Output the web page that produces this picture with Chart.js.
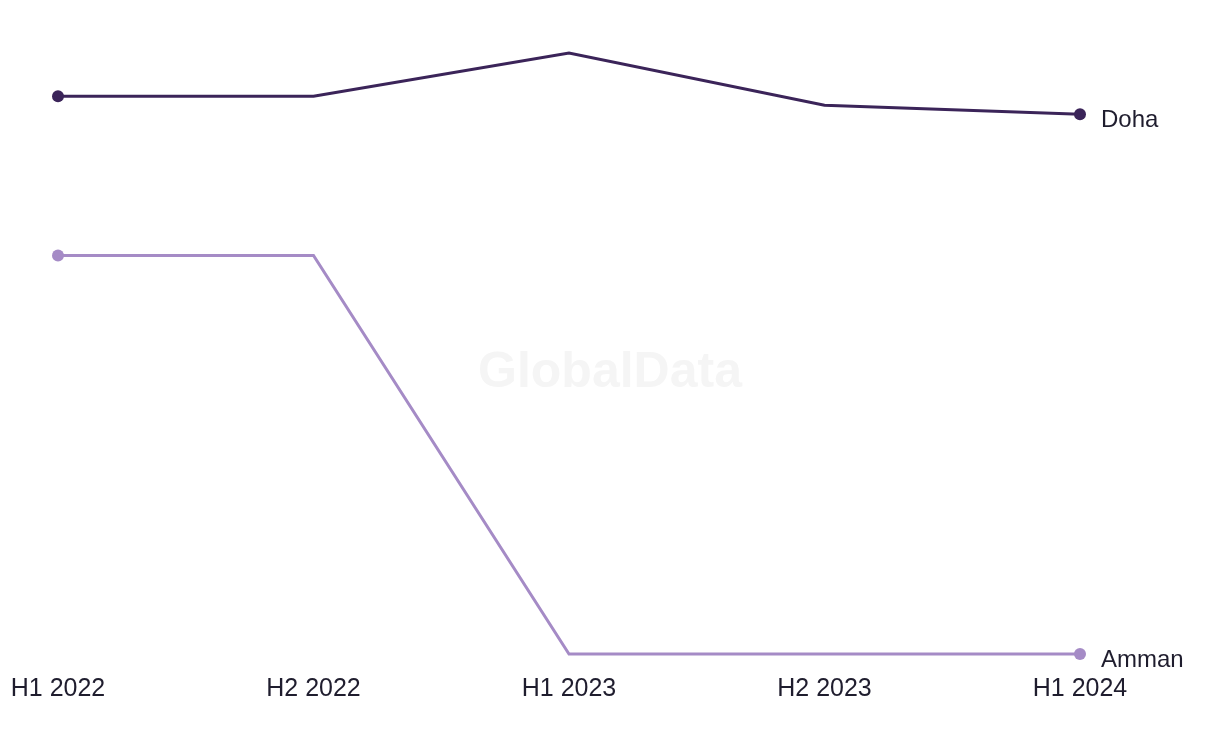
<!DOCTYPE html>
<html>
<head>
<meta charset="utf-8">
<script src="https://cdn.jsdelivr.net/npm/chart.js@4"></script>
<style>
  body { margin: 0; background: #fff; }
  #wrap { width: 1220px; height: 744px; position: relative; }
</style>
</head>
<body>
<div id="wrap"><canvas id="cityChart"></canvas></div>
<script>
// data (hidden y scale, 0-100)
const periods = ['H1 2022', 'H2 2022', 'H1 2023', 'H2 2023', 'H1 2024'];
const dohaValues = [92.8, 92.8, 100, 91.3, 89.8];
const ammanValues = [66.3, 66.3, 0, 0, 0];
const seriesNames = ['Doha', 'Amman'];
const seriesColors = ['#3b2459', '#a58bc6'];

const TEXT_COLOR = '#1f1d2e';
const FONT = '"Liberation Sans", Arial, sans-serif';

// only the first and last points get a dot
const endDots = (ctx) =>
  ctx.dataIndex === 0 || ctx.dataIndex === periods.length - 1 ? 6 : 0;

const watermark = {
  id: 'watermark',
  beforeDraw(chart) {
    const { ctx, width } = chart;
    ctx.save();
    ctx.font = `bold 50px ${FONT}`;
    ctx.fillStyle = '#f5f5f5';
    ctx.textAlign = 'center';
    ctx.textBaseline = 'middle';
    ctx.fillText('GlobalData', width / 2, 373);
    ctx.restore();
  },
};

// series names next to the last point
const endLabels = {
  id: 'endLabels',
  afterDatasetsDraw(chart) {
    const { ctx } = chart;
    ctx.save();
    ctx.font = `24px ${FONT}`;
    ctx.fillStyle = TEXT_COLOR;
    ctx.textBaseline = 'middle';
    chart.data.datasets.forEach((ds, i) => {
      const meta = chart.getDatasetMeta(i);
      const pt = meta.data[meta.data.length - 1];
      ctx.fillText(ds.label, pt.x + 21, pt.y + 6);
    });
    ctx.restore();
  },
};

const ctx = document.getElementById('cityChart').getContext('2d');
const cityChart = new Chart(ctx, {
  type: 'line',
  data: {
    labels: periods,
    datasets: [
      {
        label: seriesNames[0],
        data: dohaValues,
        borderColor: seriesColors[0],
        backgroundColor: seriesColors[0],
        borderWidth: 3,
        pointRadius: endDots,
        pointBorderWidth: 0,
        tension: 0,
        clip: false,
      },
      {
        label: seriesNames[1],
        data: ammanValues,
        borderColor: seriesColors[1],
        backgroundColor: seriesColors[1],
        borderWidth: 3,
        pointRadius: endDots,
        pointBorderWidth: 0,
        tension: 0,
        clip: false,
      },
    ],
  },
  options: {
    responsive: true,
    maintainAspectRatio: false,
    animation: false,
    layout: {
      padding: { left: 58, right: 140, top: 53, bottom: 37 },
    },
    plugins: {
      legend: { display: false },
      tooltip: { enabled: false },
    },
    scales: {
      x: {
        // hidden tick marks, their length only pushes the labels down
        grid: { display: false, drawTicks: true, tickLength: 17 },
        border: { display: false },
        ticks: {
          color: TEXT_COLOR,
          font: { family: FONT, size: 25 },
          padding: 3,
          maxRotation: 0,
          autoSkip: false,
        },
      },
      y: {
        display: false,
        min: 0,
        max: 100,
      },
    },
  },
  plugins: [watermark, endLabels],
});
</script>
</body>
</html>
